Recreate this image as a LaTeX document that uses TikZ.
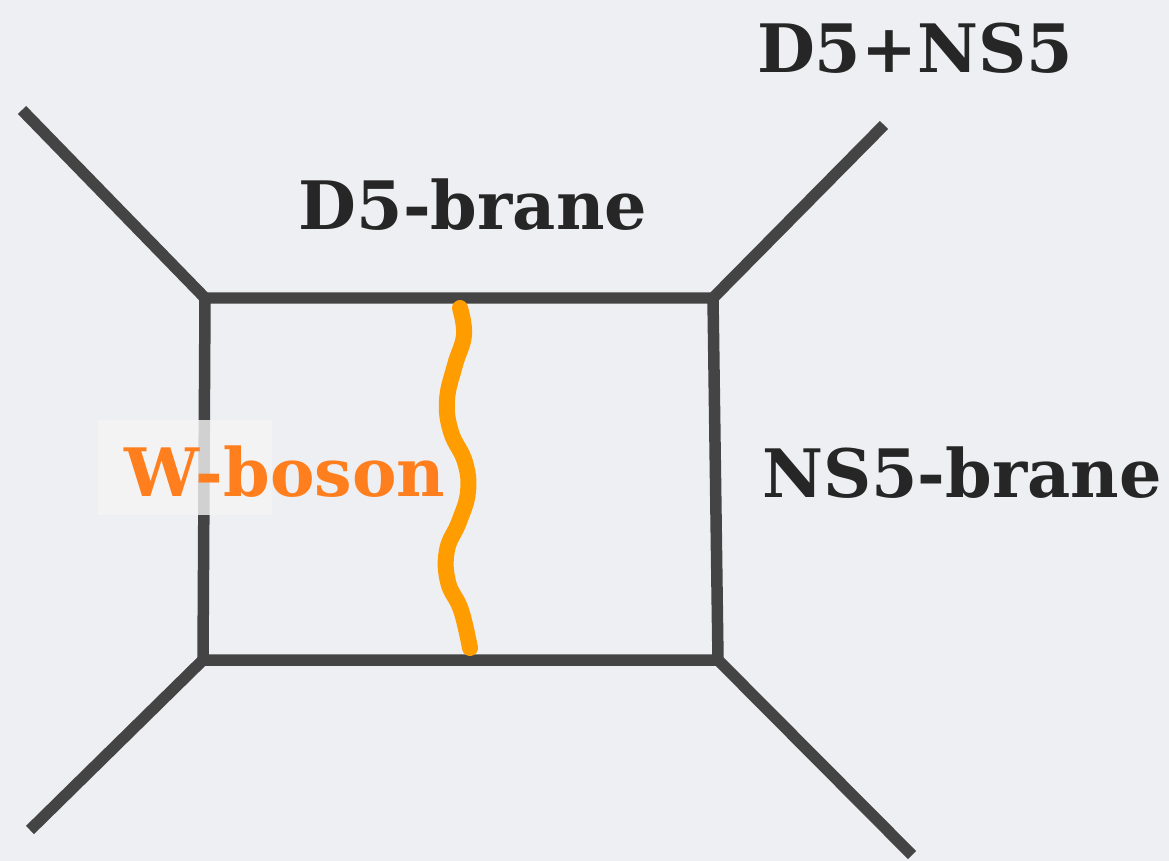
\documentclass[tikz,border=0pt]{standalone}
\usepackage{fontspec}
\setmainfont{DejaVu Serif}
\usepackage{tikz}
\usetikzlibrary{positioning}
\definecolor{bg}{HTML}{EEEFF2}
\definecolor{brane}{HTML}{444444}
\definecolor{wcol}{HTML}{FF7F1F}
\definecolor{wline}{HTML}{FF9D00}

\begin{document}
\begin{tikzpicture}[x=0.02cm, y=-0.02cm, line join=round,
    brane/.style = {draw=brane, line width=0.23cm},
    lbl/.style = {font=\bfseries\fontsize{38}{40}\selectfont, text=black!85, inner sep=0pt}]
    \fill[bg] (0,0) rectangle (1169,861);
    \useasboundingbox (0,0) rectangle (1169,861);

    % box corners and outer legs
    \coordinate (tl) at (205,298);
    \coordinate (tr) at (713,298);
    \coordinate (br) at (718,660);
    \coordinate (bl) at (203,660);
    \coordinate (otl) at (22,110);
    \coordinate (otr) at (884,125);
    \coordinate (obl) at (30,830);
    \coordinate (obr) at (912,855);

    \draw[brane] (tl) -- (tr) -- (br) -- (bl) -- cycle;
    \draw[brane] (tl) -- (otl);
    \draw[brane] (tr) -- (otr);
    \draw[brane] (bl) -- (obl);
    \draw[brane] (br) -- (obr);

    % W-boson string
    \draw[wline, line width=0.32cm, line cap=round] plot[smooth, tension=0.7] coordinates
        {(460,308) (464,335) (455,365) (447,400) (451,432) (465,462) (468,492) (459,522) (447,550) (448,582) (461,610) (470,648)};

    \fill[white!92!gray, opacity=0.8] (98,420) rectangle (272,515);

    \node[lbl] (dns) at (915,48) {D5+NS5};
    \node[lbl] (d5) at (473,205) {D5-brane};
    \node[lbl] (ns5) at (962,473) {NS5-brane};
    \node[lbl, text=wcol] (wb) at (285,472) {W-boson};
\end{tikzpicture}
\end{document}
